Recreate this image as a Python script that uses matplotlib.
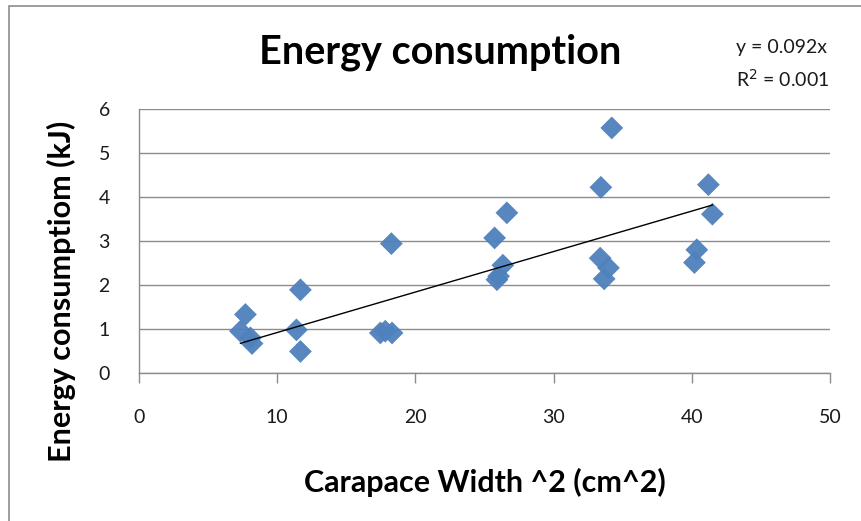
import matplotlib.pyplot as plt
import numpy as np
from matplotlib.patches import Rectangle

# carapace width squared (cm^2) and energy consumption (kJ)
width_sq = [7.70, 7.34, 8.06, 8.18, 11.68, 11.39, 11.68, 18.26, 17.46, 17.82, 18.31,
            25.73, 26.62, 26.33, 26.02, 25.90, 33.42, 34.21, 33.37, 33.97, 33.66,
            41.20, 41.49, 40.36, 40.19]
energy = [1.33, 0.95, 0.80, 0.67, 1.89, 0.98, 0.49, 2.94, 0.91, 0.95, 0.91,
          3.07, 3.64, 2.45, 2.20, 2.12, 4.22, 5.57, 2.61, 2.39, 2.14,
          4.28, 3.61, 2.80, 2.51]
slope = 0.092
r_squared = 0.001

x_ticks = [0, 10, 20, 30, 40, 50]
y_ticks = [0, 1, 2, 3, 4, 5, 6]

plt.rcParams["font.family"] = ["Lato", "DejaVu Sans"]

fig = plt.figure(figsize=(8.61, 5.21), dpi=100)
fig.patches.append(Rectangle((9 / 861, -0.05), 1.0, (521 - 6) / 521 + 0.05,
                             transform=fig.transFigure, fill=False,
                             edgecolor="#8c8c8c", linewidth=1.2))

ax = fig.add_axes([139 / 861, (521 - 373) / 521, (830 - 139) / 861, (373 - 109) / 521])

ax.scatter(width_sq, energy, marker="D", s=135, color="#4f81bd", edgecolors="none",
           zorder=3, alpha=0.95)

# linear trendline through the origin, drawn over the data range
line_x = np.array([min(width_sq), max(width_sq)])
ax.plot(line_x, slope * line_x, color="black", linewidth=1.0, zorder=4)

ax.set_xlim(0, 50)
ax.set_ylim(0, 6)
ax.set_xticks(x_ticks)
ax.set_yticks(y_ticks)
ax.grid(axis="y", color="#8c8c8c", linewidth=1.0)
ax.set_axisbelow(True)

for side in ("top", "right"):
    ax.spines[side].set_visible(False)
for side in ("left", "bottom"):
    ax.spines[side].set_color("#8c8c8c")
    ax.spines[side].set_linewidth(1.0)

ax.tick_params(axis="x", direction="out", length=7, width=1.0, color="#8c8c8c",
               labelsize=14, pad=19, labelcolor="#1a1a1a")
ax.tick_params(axis="y", length=0, labelsize=14, pad=21, labelcolor="#1a1a1a")

ax.set_xlabel("Carapace Width ^2 (cm^2)", fontsize=22, fontweight="bold")
ax.xaxis.set_label_coords(0.5, (373 - 482) / 264, transform=ax.transAxes)
ax.xaxis.label.set_va("center")

fig.text(61 / 861, 1 - 291 / 521, "Energy consumptiom (kJ)", fontsize=22,
         fontweight="bold", rotation=90, ha="center", va="center")
fig.text(440 / 861, 1 - 52 / 521, "Energy consumption", fontsize=28.5, fontweight="bold",
         ha="center", va="center")
fig.text(736 / 861, 1 - 48 / 521, f"y = {slope}x", fontsize=14, ha="left", va="center",
         color="#1a1a1a")
fig.text(736 / 861, 1 - 79 / 521, f"R$^2$ = {r_squared}", fontsize=14, ha="left",
         va="center", color="#1a1a1a")

fig.savefig("out.png", dpi=100)
